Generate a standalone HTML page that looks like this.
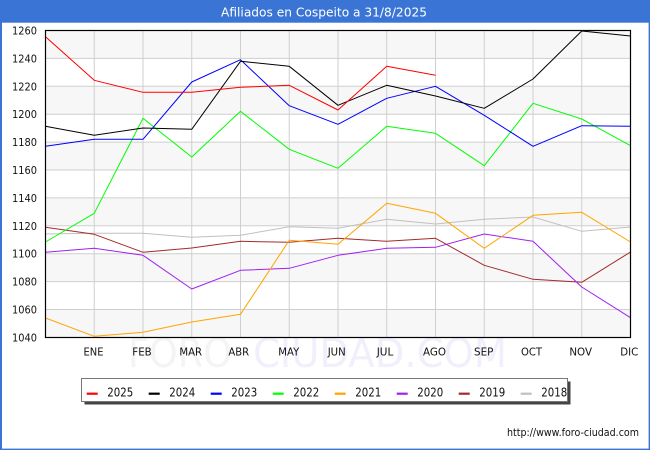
<!DOCTYPE html>
<html><head><meta charset="utf-8"><style>
html,body{margin:0;padding:0;background:#fff;}
svg{display:block;}
text{font-family:"DejaVu Sans","Liberation Sans",sans-serif;}
</style></head><body>
<svg width="650" height="450" viewBox="0 0 650 450" xmlns="http://www.w3.org/2000/svg">
<rect x="0" y="0" width="650" height="450" fill="#fff"/>
<!-- title bar -->
<rect x="0" y="0" width="650" height="22.7" fill="#3a75d6"/>
<rect x="0" y="0" width="2" height="450" fill="#3a75d6"/>
<rect x="648.6" y="0" width="1.4" height="450" fill="#3a75d6"/>
<rect x="0" y="448.6" width="650" height="1.4" fill="#3a75d6"/>
<text x="324" y="16.5" font-size="12.5" fill="#fff" text-anchor="middle" textLength="206" lengthAdjust="spacingAndGlyphs">Afiliados en Cospeito a 31/8/2025</text>

<!-- watermark -->
<text x="128" y="367" font-size="40" fill="#f4f4f4" textLength="104" lengthAdjust="spacingAndGlyphs">FORO</text>
<text x="253" y="367" font-size="40" fill="#f0f0fd" textLength="254" lengthAdjust="spacingAndGlyphs">CIUDAD.COM</text>

<!-- plot background -->
<rect x="45.5" y="30.5" width="585" height="307" fill="#fff"/>
<g fill="#f7f7f7">
<rect x="45.5" y="30.5" width="585" height="27.9"/>
<rect x="45.5" y="86.3" width="585" height="27.9"/>
<rect x="45.5" y="142.1" width="585" height="27.9"/>
<rect x="45.5" y="197.9" width="585" height="27.9"/>
<rect x="45.5" y="253.7" width="585" height="27.9"/>
<rect x="45.5" y="309.5" width="585" height="27.9"/>
</g>
<g stroke="#cfcfcf" stroke-width="1">
<line x1="45.5" x2="630.5" y1="58.4" y2="58.4"/>
<line x1="45.5" x2="630.5" y1="86.3" y2="86.3"/>
<line x1="45.5" x2="630.5" y1="114.2" y2="114.2"/>
<line x1="45.5" x2="630.5" y1="142.1" y2="142.1"/>
<line x1="45.5" x2="630.5" y1="170" y2="170"/>
<line x1="45.5" x2="630.5" y1="197.9" y2="197.9"/>
<line x1="45.5" x2="630.5" y1="225.8" y2="225.8"/>
<line x1="45.5" x2="630.5" y1="253.7" y2="253.7"/>
<line x1="45.5" x2="630.5" y1="281.6" y2="281.6"/>
<line x1="45.5" x2="630.5" y1="309.5" y2="309.5"/>
<line y1="30.5" y2="337.5" x1="94.25" x2="94.25"/>
<line y1="30.5" y2="337.5" x1="143" x2="143"/>
<line y1="30.5" y2="337.5" x1="191.75" x2="191.75"/>
<line y1="30.5" y2="337.5" x1="240.5" x2="240.5"/>
<line y1="30.5" y2="337.5" x1="289.25" x2="289.25"/>
<line y1="30.5" y2="337.5" x1="338" x2="338"/>
<line y1="30.5" y2="337.5" x1="386.75" x2="386.75"/>
<line y1="30.5" y2="337.5" x1="435.5" x2="435.5"/>
<line y1="30.5" y2="337.5" x1="484.25" x2="484.25"/>
<line y1="30.5" y2="337.5" x1="533" x2="533"/>
<line y1="30.5" y2="337.5" x1="581.75" x2="581.75"/>
</g>

<!-- series -->
<g fill="none" stroke-width="1" stroke-linejoin="round">
<polyline stroke="#c0c0c0" points="45.5,234 94.25,233.3 143,233.3 191.75,237.3 240.5,235.3 289.25,226.7 338,228.3 386.75,219.3 435.5,224 484.25,219.3 533,217 581.75,231.3 630.5,227"/>
<polyline stroke="#a52a2a" points="45.5,227.3 94.25,234.3 143,252.3 191.75,248 240.5,241.3 289.25,242.3 338,238.3 386.75,241.3 435.5,238.3 484.25,265.3 533,279.3 581.75,282.3 630.5,252"/>
<polyline stroke="#a020f0" points="45.5,252.3 94.25,248.3 143,255.3 191.75,289 240.5,270.3 289.25,268.3 338,255.3 386.75,248.3 435.5,247.3 484.25,234 533,241.3 581.75,287 630.5,317.7"/>
<polyline stroke="#ffa500" points="45.5,318 94.25,336.3 143,332.3 191.75,322 240.5,314.3 289.25,240.3 338,244.3 386.75,203.3 435.5,213.3 484.25,248.3 533,215.3 581.75,212.3 630.5,242"/>
<polyline stroke="#00ff00" points="45.5,242 94.25,213.3 143,118.3 191.75,157 240.5,111.3 289.25,149.3 338,168.3 386.75,126.3 435.5,133.3 484.25,165.7 533,103.3 581.75,119 630.5,145.7"/>
<polyline stroke="#0000ff" points="45.5,146.3 94.25,139.3 143,139.3 191.75,82 240.5,59.7 289.25,105.7 338,124.3 386.75,98.3 435.5,86.3 484.25,115.3 533,146.3 581.75,125.7 630.5,126.3"/>
<polyline stroke="#000000" points="45.5,126.3 94.25,135.3 143,128 191.75,129.3 240.5,61.3 289.25,66.3 338,105.3 386.75,85.3 435.5,96 484.25,108.3 533,79 581.75,31 630.5,36"/>
<polyline stroke="#ff0000" points="45.5,36.7 94.25,80.3 143,92.3 191.75,92.3 240.5,87.3 289.25,85.3 338,110 386.75,66.3 435.5,75.3"/>
</g>

<!-- plot border -->
<rect x="45.5" y="30.5" width="585" height="307" fill="none" stroke="#000" stroke-width="1.2"/>

<!-- y labels -->
<g font-size="11" fill="#111" text-anchor="end">
<text x="37" y="34.5" textLength="25" lengthAdjust="spacingAndGlyphs">1260</text>
<text x="37" y="62.4" textLength="25" lengthAdjust="spacingAndGlyphs">1240</text>
<text x="37" y="90.3" textLength="25" lengthAdjust="spacingAndGlyphs">1220</text>
<text x="37" y="118.2" textLength="25" lengthAdjust="spacingAndGlyphs">1200</text>
<text x="37" y="146.1" textLength="25" lengthAdjust="spacingAndGlyphs">1180</text>
<text x="37" y="174" textLength="25" lengthAdjust="spacingAndGlyphs">1160</text>
<text x="37" y="201.9" textLength="25" lengthAdjust="spacingAndGlyphs">1140</text>
<text x="37" y="229.8" textLength="25" lengthAdjust="spacingAndGlyphs">1120</text>
<text x="37" y="257.7" textLength="25" lengthAdjust="spacingAndGlyphs">1100</text>
<text x="37" y="285.6" textLength="25" lengthAdjust="spacingAndGlyphs">1080</text>
<text x="37" y="313.5" textLength="25" lengthAdjust="spacingAndGlyphs">1060</text>
<text x="37" y="341.4" textLength="25" lengthAdjust="spacingAndGlyphs">1040</text>
</g>

<!-- x labels -->
<g font-size="11" fill="#111" text-anchor="middle">
<text x="93.5" y="355.5" textLength="20" lengthAdjust="spacingAndGlyphs">ENE</text>
<text x="142" y="355.5" textLength="19.4" lengthAdjust="spacingAndGlyphs">FEB</text>
<text x="190.7" y="355.5" textLength="22.7" lengthAdjust="spacingAndGlyphs">MAR</text>
<text x="238.7" y="355.5" textLength="20.7" lengthAdjust="spacingAndGlyphs">ABR</text>
<text x="288.8" y="355.5" textLength="21" lengthAdjust="spacingAndGlyphs">MAY</text>
<text x="336.7" y="355.5" textLength="18" lengthAdjust="spacingAndGlyphs">JUN</text>
<text x="385" y="355.5" textLength="16.6" lengthAdjust="spacingAndGlyphs">JUL</text>
<text x="434.5" y="355.5" textLength="23" lengthAdjust="spacingAndGlyphs">AGO</text>
<text x="483.7" y="355.5" textLength="19.3" lengthAdjust="spacingAndGlyphs">SEP</text>
<text x="531.5" y="355.5" textLength="21" lengthAdjust="spacingAndGlyphs">OCT</text>
<text x="580.7" y="355.5" textLength="22.7" lengthAdjust="spacingAndGlyphs">NOV</text>
<text x="629.3" y="355.5" textLength="18" lengthAdjust="spacingAndGlyphs">DIC</text>
</g>

<!-- legend -->
<rect x="84.5" y="381.5" width="486" height="23" fill="#444"/>
<rect x="81.5" y="378.5" width="486" height="23" fill="#fff" stroke="#777" stroke-width="1"/>
<g stroke-width="2.2">
<line x1="86.7" x2="97.7" y1="393.7" y2="393.7" stroke="#ff0000"/>
<line x1="148.7" x2="159.7" y1="393.7" y2="393.7" stroke="#000000"/>
<line x1="210.7" x2="221.7" y1="393.7" y2="393.7" stroke="#0000ff"/>
<line x1="272.7" x2="283.7" y1="393.7" y2="393.7" stroke="#00ff00"/>
<line x1="334.7" x2="345.7" y1="393.7" y2="393.7" stroke="#ffa500"/>
<line x1="396.7" x2="407.7" y1="393.7" y2="393.7" stroke="#a020f0"/>
<line x1="458.7" x2="469.7" y1="393.7" y2="393.7" stroke="#a52a2a"/>
<line x1="520.7" x2="531.7" y1="393.7" y2="393.7" stroke="#c0c0c0"/>
</g>
<g font-size="12" fill="#111">
<text x="107.3" y="396.7" textLength="26" lengthAdjust="spacingAndGlyphs">2025</text>
<text x="169.3" y="396.7" textLength="26" lengthAdjust="spacingAndGlyphs">2024</text>
<text x="231.3" y="396.7" textLength="26" lengthAdjust="spacingAndGlyphs">2023</text>
<text x="293.3" y="396.7" textLength="26" lengthAdjust="spacingAndGlyphs">2022</text>
<text x="355.3" y="396.7" textLength="26" lengthAdjust="spacingAndGlyphs">2021</text>
<text x="417.3" y="396.7" textLength="26" lengthAdjust="spacingAndGlyphs">2020</text>
<text x="479.3" y="396.7" textLength="26" lengthAdjust="spacingAndGlyphs">2019</text>
<text x="541.3" y="396.7" textLength="26" lengthAdjust="spacingAndGlyphs">2018</text>
</g>

<!-- url -->
<text x="639" y="436" font-size="10.5" fill="#111" text-anchor="end" textLength="132" lengthAdjust="spacingAndGlyphs">http://www.foro-ciudad.com</text>
</svg>
</body></html>
